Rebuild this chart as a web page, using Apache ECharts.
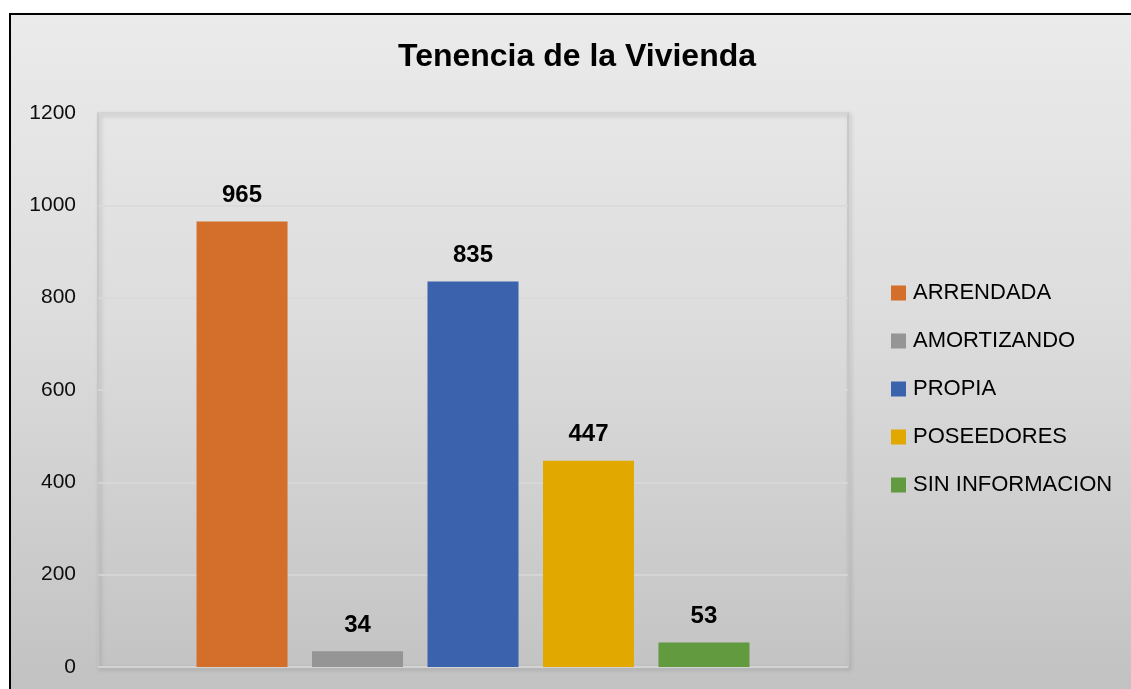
<!DOCTYPE html>
<html>
<head>
<meta charset="utf-8">
<script src="https://cdn.jsdelivr.net/npm/echarts@6/dist/echarts.min.js"></script>
<style>
html,body{margin:0;padding:0;background:#fff;}
#chart{width:1131px;height:689px;}
</style>
</head>
<body>
<div id="chart"></div>
<script>
const categories = [''];
const seriesNames = ['ARRENDADA', 'AMORTIZANDO', 'PROPIA', 'POSEEDORES', 'SIN INFORMACION'];
const seriesValues = [965, 34, 835, 447, 53];
const seriesColors = ['#D46F2B', '#959595', '#3B63AD', '#E1A900', '#629A40'];
const yTickLabels = ['0', '200', '400', '600', '800', '1000', '1200'];

const FONT = '"Liberation Sans", Arial, sans-serif';
const chart = echarts.init(document.getElementById('chart'), null, {renderer: 'canvas'});

const series = seriesNames.map((name, i) => ({
  name: name,
  type: 'bar',
  data: [seriesValues[i]],
  barWidth: 91,
  barGap: '26.9%',
  itemStyle: {color: seriesColors[i]},
  label: {
    show: true,
    position: 'top',
    distance: 14,
    fontFamily: FONT,
    fontSize: 24,
    fontWeight: 'bold',
    color: '#000'
  }
}));

chart.setOption({
  backgroundColor: '#ffffff',
  animation: false,
  graphic: [{
    type: 'rect',
    z: -10,
    silent: true,
    shape: {x: 10, y: 14, width: 1140, height: 700},
    style: {
      fill: new echarts.graphic.LinearGradient(0, 0, 0, 1, [
        {offset: 0, color: '#ebebeb'},
        {offset: 0.45, color: '#dcdcdc'},
        {offset: 1, color: '#c0c0c0'}
      ]),
      stroke: '#000',
      lineWidth: 2
    }
  }],
  title: {
    text: 'Tenencia de la Vivienda',
    left: 577,
    top: 41,
    textAlign: 'center',
    padding: 0,
    textStyle: {fontFamily: FONT, fontSize: 32, fontWeight: 'bold', color: '#000'}
  },
  legend: {
    orient: 'vertical',
    left: 891,
    top: 282,
    padding: 0,
    itemWidth: 15,
    itemHeight: 15,
    itemGap: 26,
    icon: 'rect',
    data: seriesNames,
    textStyle: {fontFamily: FONT, fontSize: 22, lineHeight: 22, color: '#000', padding: [0, 0, 0, 2]}
  },
  grid: {
    left: 98,
    top: 113,
    width: 750,
    height: 554,
    show: true,
    backgroundColor: 'transparent',
    borderColor: '#c4c4c4',
    borderWidth: 1.5,
    shadowColor: 'rgba(0,0,0,0.25)',
    shadowBlur: 4,
    shadowOffsetX: 2,
    shadowOffsetY: 2
  },
  xAxis: {
    type: 'category',
    data: categories,
    axisLine: {show: false},
    axisTick: {show: false},
    axisLabel: {show: false}
  },
  yAxis: {
    type: 'value',
    min: 0,
    max: 1200,
    interval: 200,
    axisLine: {show: false},
    axisTick: {show: false},
    axisLabel: {
      margin: 22,
      fontFamily: FONT,
      fontSize: 21,
      color: '#0d0d0d',
      formatter: (v) => yTickLabels[Math.round(v / 200)]
    },
    splitLine: {lineStyle: {color: '#d9d9d9', width: 1.5}}
  },
  series: series
});
</script>
</body>
</html>
